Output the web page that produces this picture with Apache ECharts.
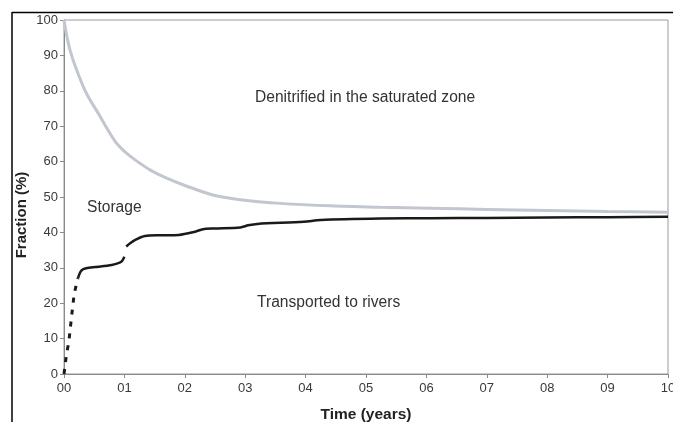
<!DOCTYPE html>
<html>
<head>
<meta charset="utf-8">
<script src="https://cdn.jsdelivr.net/npm/echarts@6/dist/echarts.min.js"></script>
<style>
html,body{margin:0;padding:0;background:#fff;}
#main{width:673px;height:422px;}
</style>
</head>
<body>
<div id="main"></div>
<script>
// 数据：时间(年) 与 比例(%)
var denitrified = [
    [0, 100], [0.04, 96], [0.1, 91.5], [0.2, 86.3], [0.37, 79.3], [0.6, 72.7],
    [0.75, 68.3], [0.87, 65.2], [1.04, 62.3], [1.2, 60.2], [1.43, 57.6], [1.7, 55.3],
    [1.98, 53.4], [2.48, 50.5], [3.03, 49.0], [3.58, 48.2], [4.41, 47.5], [5.24, 47.1],
    [6.07, 46.8], [7, 46.5], [8, 46.2], [9, 45.9], [10, 45.7]
];
// 快速上升段（虚线）
var riversRise = [
    [0, 0], [0.04, 5.4], [0.08, 9.1], [0.11, 13.8], [0.14, 18.5], [0.17, 22.8], [0.23, 27]
];
var riversFirst = [
    [0.23, 27], [0.27, 28.8], [0.32, 29.6], [0.45, 30.1], [0.57, 30.3], [0.79, 30.8],
    [0.9, 31.3], [0.96, 31.9], [1.0, 33.1]
];
var riversSecond = [
    [1.03, 36], [1.1, 37], [1.18, 37.9], [1.34, 39], [1.6, 39.2], [1.9, 39.3],
    [2.17, 40.2], [2.3, 40.9], [2.48, 41.1], [2.92, 41.4], [3.05, 42], [3.2, 42.4],
    [3.97, 43.0], [4.25, 43.5], [5.24, 43.9], [6.07, 44.0], [7, 44.1], [8, 44.2],
    [9, 44.3], [10, 44.4]
];
var annotations = ['Denitrified in the saturated zone', 'Storage', 'Transported to rivers'];

var chart = echarts.init(document.getElementById('main'));
var font = 'Liberation Sans, Arial, sans-serif';
var black = '#1a1a1a';
var noteFont = '15.6px ' + font;

var option = {
    backgroundColor: '#fff',
    animation: false,
    grid: {
        left: 64, right: 5, top: 20, bottom: 48,
        outerBoundsMode: 'none',
        show: true, borderColor: '#9a9a9a', borderWidth: 1
    },
    xAxis: {
        type: 'value', min: 0, max: 10, interval: 1,
        name: 'Time (years)', nameLocation: 'middle', nameGap: 33,
        nameTextStyle: {fontFamily: font, fontSize: 15.5, fontWeight: 'bold', color: '#222'},
        axisLine: {lineStyle: {color: '#8a8a8a'}},
        axisTick: {length: 4, lineStyle: {color: '#8a8a8a'}},
        axisLabel: {
            fontFamily: font, fontSize: 13, color: '#3a3a3a', margin: 8,
            formatter: function (v) { return (v < 10 ? '0' : '') + v; }
        },
        splitLine: {show: false}
    },
    yAxis: {
        type: 'value', min: 0, max: 100, interval: 10,
        name: 'Fraction (%)', nameLocation: 'middle', nameGap: 35,
        nameMoveOverlap: false,
        nameTextStyle: {fontFamily: font, fontSize: 15, fontWeight: 'bold', color: '#222', padding: [0, 36, 0, 0]},
        axisLine: {show: true, lineStyle: {color: '#8a8a8a'}},
        axisTick: {show: true, length: 4, lineStyle: {color: '#8a8a8a'}},
        axisLabel: {fontFamily: font, fontSize: 13, color: '#3a3a3a', margin: 6},
        splitLine: {show: false}
    },
    graphic: [
        // 外框
        {type: 'line', shape: {x1: 12, y1: 12.5, x2: 673, y2: 12.5}, style: {stroke: '#000', lineWidth: 1.5}},
        {type: 'line', shape: {x1: 12, y1: 12, x2: 12, y2: 422}, style: {stroke: '#000', lineWidth: 1.5}},
        {type: 'text', left: 255, top: 90, style: {text: annotations[0], font: noteFont, fill: '#333'}},
        {type: 'text', left: 87, top: 200, style: {text: annotations[1], font: noteFont, fill: '#333'}},
        {type: 'text', left: 257, top: 295, style: {text: annotations[2], font: noteFont, fill: '#333'}}
    ],
    series: [
        {
            type: 'line', data: denitrified, smooth: 0.3, showSymbol: false,
            lineStyle: {color: '#c2c6ce', width: 3}
        },
        {
            type: 'line', data: riversRise, showSymbol: false,
            lineStyle: {color: black, width: 3, type: [5, 7]}
        },
        {
            type: 'line', data: riversFirst, smooth: 0.3, showSymbol: false,
            lineStyle: {color: black, width: 2.5}
        },
        {
            type: 'line', data: riversSecond, smooth: 0.3, showSymbol: false,
            lineStyle: {color: black, width: 2.5}
        }
    ]
};
chart.setOption(option);
</script>
</body>
</html>
